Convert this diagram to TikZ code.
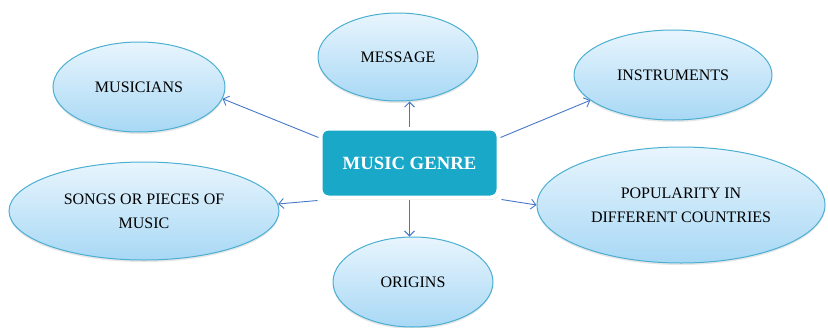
\documentclass[tikz,border=0pt]{standalone}
\usepackage{fontspec}
\setmainfont{Liberation Serif}
\usetikzlibrary{shapes.geometric, shadows, arrows.meta}
\definecolor{hubfill}{RGB}{26,168,200}
\definecolor{leafline}{RGB}{75,175,210}
\definecolor{leaftop}{RGB}{232,245,253}
\definecolor{leafbot}{RGB}{168,216,245}
\definecolor{linkblue}{RGB}{70,120,200}
\tikzset{ leaf/.style = { ellipse
                        , draw         = leafline
                        , line width   = 1pt
                        , top color    = leaftop
                        , bottom color = leafbot
                        , inner sep    = 0pt
                        , align        = center
                        , font         = \fontsize{16}{24}\selectfont
                        , drop shadow  = {opacity=0.2, shadow xshift=0pt, shadow yshift=-2pt}
                        },
            hub/.style = { rectangle
            , rounded corners = 8pt
            , draw            = white
            , line width      = 4pt
            , fill            = hubfill
            , minimum width   = 178pt
            , minimum height  = 69pt
            , text            = white
            , font            = \fontsize{18.7}{20}\selectfont\bfseries
            , drop shadow     = {opacity=0.4, shadow xshift=1pt, shadow yshift=-2pt}
            },
            link/.style = { draw = linkblue
            , line width = 0.9pt
            , -{Straight Barb[length=5pt,width=10pt]}
            }
          }
\begin{document}
\begin{tikzpicture}[x=1pt, y=-1pt]
            \useasboundingbox (0,0) rectangle (828,327);
            \node[hub] (genre) at (409.5,163) {MUSIC GENRE};
            % outer topics
            \node[leaf, minimum width=160pt, minimum height=88pt] (msg) at (398,57) {MESSAGE};
            \node[leaf, minimum width=172pt, minimum height=90pt] (musicians) at (139,87) {MUSICIANS};
            \node[leaf, minimum width=198pt, minimum height=90pt] (instr) at (673,75) {INSTRUMENTS};
            \node[leaf, minimum width=270pt, minimum height=98pt] (songs) at (144,211) {SONGS OR PIECES OF\\MUSIC};
            \node[leaf, minimum width=288pt, minimum height=116pt] (pop) at (681,205) {POPULARITY IN\\DIFFERENT COUNTRIES};
            \node[leaf, minimum width=160pt, minimum height=90pt] (orig) at (413,282) {ORIGINS};
            %\path[link] (genre) edge (msg);
            \path[link] (genre.north) -- (genre.north |- msg.south);
            \path[link] (genre.south) -- (genre.south |- orig.north);
            \path[link] ([yshift=-11pt]genre.north west) -- (musicians.-8);
            \path[link] ([xshift=-1pt,yshift=-1pt]genre.south west) -- (songs.3);
            \path[link] ([yshift=-11pt]genre.north east) -- (instr.197);
            \path[link] ([xshift=1pt]genre.south east) -- (pop.180);
\end{tikzpicture}
\end{document}
